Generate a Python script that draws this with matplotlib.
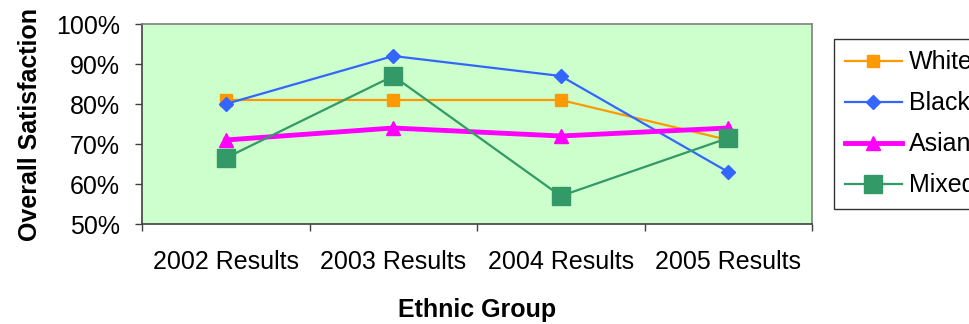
import matplotlib
matplotlib.use("Agg")
import matplotlib.pyplot as plt

plt.rcParams["font.family"] = ["Liberation Sans", "DejaVu Sans"]

years = ["2002 Results", "2003 Results", "2004 Results", "2005 Results"]
white = [81, 81, 81, 71]
black = [80, 92, 87, 63]
asian = [71, 74, 72, 74]
mixed = [66.5, 87, 57, 71.5]

fig = plt.figure(figsize=(9.7, 3.24), dpi=100)
ax = fig.add_axes([142 / 970, 100 / 324, 670 / 970, 200 / 324])
ax.set_facecolor("#CCFFCC")

x = range(len(years))
ax.plot(x, white, color="#FF9900", lw=1.6, marker="s", ms=8.5, mec="#FF9900", label="White")
ax.plot(x, black, color="#3366FF", lw=1.6, marker="D", ms=7.5, mec="#3366FF", label="Black")
ax.plot(x, asian, color="#FF00FF", lw=3.5, marker="^", ms=10, mec="#FF00FF", label="Asian")
ax.plot(x, mixed, color="#339966", lw=1.6, marker="s", ms=12.5, mec="#339966", label="Mixed")

ax.set_ylim(50, 100)
ax.set_yticks(range(50, 101, 10))
ax.set_yticklabels([f"{v}%" for v in range(50, 101, 10)])
ax.set_xlim(-0.5, 3.5)
ax.set_xticks([-0.5, 0.5, 1.5, 2.5, 3.5])
ax.set_xticklabels([])
ax.set_xticks(list(x), minor=True)
ax.set_xticklabels(years, minor=True)
ax.tick_params(axis="x", which="minor", length=0, pad=19, labelsize=18)
ax.tick_params(axis="x", which="major", length=5, width=1, color="#404040")
ax.tick_params(axis="y", length=5, width=1, color="#404040", pad=11, labelsize=18)

for side in ["top", "right"]:
    ax.spines[side].set_color("#808080")
for side in ["left", "bottom"]:
    ax.spines[side].set_color("#404040")
for s in ax.spines.values():
    s.set_linewidth(1.2)

ax.set_xlabel("Ethnic Group", fontsize=18, fontweight="bold", labelpad=17)
ax.set_ylabel("Overall Satisfaction", fontsize=18, fontweight="bold", labelpad=10)

leg = fig.legend(loc="upper left", bbox_to_anchor=(834 / 970, 1 - 39 / 324),
                 fontsize=18, frameon=True, fancybox=False, edgecolor="black",
                 handlelength=2.25, labelspacing=0.68, borderpad=0.45, handletextpad=0.3,
                 borderaxespad=0)
leg.get_frame().set_linewidth(1.0)

fig.savefig("out.png", dpi=100)
